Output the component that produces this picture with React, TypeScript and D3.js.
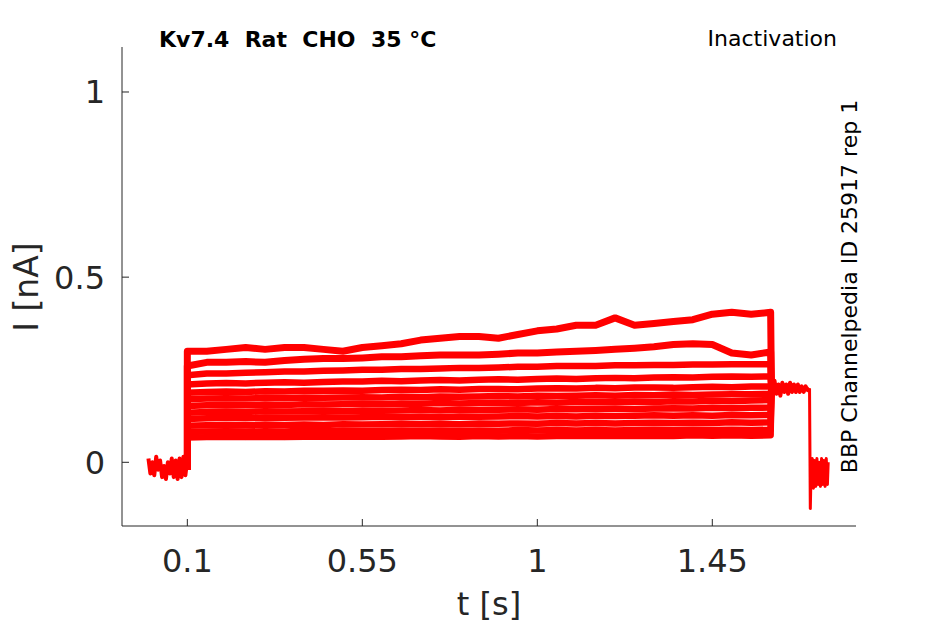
import React from "react";
import * as d3 from "d3";

const W = 945;
const H = 624;

// sample times (s) during the test pulse
const times = [
  0.1, 0.15, 0.2, 0.25, 0.3, 0.35, 0.4, 0.45, 0.5, 0.55, 0.6, 0.65, 0.7, 0.75, 0.8, 0.85,
  0.9, 0.95, 1.0, 1.05, 1.1, 1.15, 1.2, 1.25, 1.3, 1.35, 1.4, 1.45, 1.5, 1.55, 1.6,
];

// current (nA) of each sweep
const trace1 = [0.3, 0.3, 0.305, 0.31, 0.305, 0.31, 0.31, 0.305, 0.3, 0.31, 0.315, 0.32, 0.33, 0.335, 0.34, 0.34, 0.335, 0.345, 0.355, 0.36, 0.37, 0.37, 0.39, 0.37, 0.375, 0.38, 0.385, 0.4, 0.405, 0.4, 0.405];
const trace2 = [0.26, 0.27, 0.27, 0.272, 0.27, 0.275, 0.278, 0.28, 0.28, 0.282, 0.285, 0.285, 0.288, 0.29, 0.29, 0.29, 0.292, 0.295, 0.295, 0.298, 0.3, 0.302, 0.305, 0.308, 0.312, 0.318, 0.32, 0.318, 0.295, 0.29, 0.298];
const trace3 = [0.235, 0.24, 0.24, 0.242, 0.243, 0.245, 0.245, 0.247, 0.248, 0.25, 0.25, 0.252, 0.252, 0.253, 0.255, 0.255, 0.256, 0.258, 0.258, 0.26, 0.26, 0.26, 0.262, 0.262, 0.263, 0.263, 0.264, 0.264, 0.265, 0.265, 0.265];
const trace4 = [0.21, 0.213, 0.214, 0.213, 0.215, 0.216, 0.215, 0.217, 0.218, 0.218, 0.22, 0.219, 0.221, 0.222, 0.221, 0.223, 0.224, 0.223, 0.225, 0.226, 0.225, 0.227, 0.228, 0.227, 0.229, 0.23, 0.229, 0.231, 0.232, 0.231, 0.232];
const trace5 = [0.188, 0.19, 0.191, 0.19, 0.192, 0.191, 0.193, 0.193, 0.194, 0.193, 0.195, 0.196, 0.195, 0.197, 0.196, 0.198, 0.198, 0.197, 0.199, 0.2, 0.199, 0.201, 0.2, 0.202, 0.202, 0.201, 0.203, 0.204, 0.203, 0.205, 0.205];
const trace6 = [0.17, 0.172, 0.173, 0.172, 0.174, 0.173, 0.175, 0.174, 0.175, 0.176, 0.175, 0.177, 0.176, 0.178, 0.177, 0.178, 0.179, 0.178, 0.18, 0.179, 0.18, 0.181, 0.18, 0.182, 0.181, 0.183, 0.182, 0.183, 0.184, 0.184, 0.185];
const trace7 = [0.152, 0.154, 0.155, 0.154, 0.156, 0.155, 0.157, 0.156, 0.157, 0.158, 0.157, 0.159, 0.158, 0.16, 0.159, 0.16, 0.161, 0.16, 0.162, 0.161, 0.163, 0.162, 0.163, 0.164, 0.163, 0.165, 0.164, 0.166, 0.165, 0.167, 0.168];
const trace8 = [0.134, 0.136, 0.137, 0.136, 0.138, 0.137, 0.138, 0.139, 0.138, 0.14, 0.139, 0.14, 0.141, 0.14, 0.142, 0.141, 0.142, 0.143, 0.142, 0.144, 0.143, 0.144, 0.145, 0.144, 0.145, 0.146, 0.145, 0.147, 0.146, 0.147, 0.148];
const trace9 = [0.117, 0.119, 0.12, 0.119, 0.121, 0.12, 0.121, 0.122, 0.121, 0.122, 0.123, 0.122, 0.123, 0.122, 0.124, 0.123, 0.124, 0.125, 0.124, 0.125, 0.124, 0.126, 0.125, 0.126, 0.127, 0.126, 0.127, 0.126, 0.128, 0.127, 0.128];
const trace10 = [0.099, 0.1, 0.101, 0.1, 0.102, 0.101, 0.102, 0.101, 0.103, 0.102, 0.103, 0.104, 0.103, 0.104, 0.103, 0.105, 0.104, 0.105, 0.104, 0.106, 0.105, 0.106, 0.105, 0.106, 0.107, 0.106, 0.107, 0.106, 0.108, 0.107, 0.108];
const trace11 = [0.082, 0.083, 0.084, 0.083, 0.084, 0.083, 0.085, 0.084, 0.085, 0.084, 0.085, 0.086, 0.085, 0.086, 0.085, 0.086, 0.085, 0.087, 0.086, 0.087, 0.086, 0.087, 0.086, 0.087, 0.088, 0.087, 0.088, 0.087, 0.088, 0.087, 0.088];
const trace12 = [0.067, 0.068, 0.069, 0.068, 0.069, 0.068, 0.069, 0.07, 0.069, 0.07, 0.069, 0.07, 0.071, 0.07, 0.069, 0.071, 0.07, 0.071, 0.07, 0.071, 0.072, 0.071, 0.072, 0.071, 0.072, 0.071, 0.073, 0.072, 0.073, 0.072, 0.073];
const traces = [trace1, trace2, trace3, trace4, trace5, trace6, trace7, trace8, trace9, trace10, trace11, trace12];

// holding current before the pulse (all sweeps overlap here)
const preTimes = [0, 0.005, 0.01, 0.015, 0.02, 0.025, 0.03, 0.035, 0.04, 0.045, 0.05, 0.055, 0.06, 0.065, 0.07, 0.075, 0.08, 0.085, 0.09, 0.095, 0.1];
const preValues = [0.01, -0.03, 0.0, -0.035, 0.015, -0.02, 0.005, -0.04, -0.01, -0.045, 0.0, -0.03, 0.01, -0.04, 0.005, -0.045, 0.01, -0.04, 0.015, -0.035, 0.01];

// shared tail after the pulse
const tailTimes = [1.6, 1.605, 1.61, 1.615, 1.62, 1.625, 1.63, 1.635, 1.64, 1.645, 1.65, 1.655, 1.66, 1.665, 1.67, 1.675, 1.68, 1.685, 1.69, 1.695, 1.7];
const tailValues = [0.215, 0.18, 0.22, 0.185, 0.21, 0.18, 0.215, 0.19, 0.21, 0.185, 0.215, 0.19, 0.21, 0.19, 0.21, 0.19, 0.205, 0.19, 0.205, 0.195, 0.2];
const postTimes = [1.7, 1.702, 1.704, 1.707, 1.71, 1.713, 1.716, 1.719, 1.722, 1.725, 1.728, 1.731, 1.734, 1.737, 1.74, 1.743, 1.746, 1.748];
const postValues = [0.2, -0.125, -0.02, 0.01, -0.07, 0.005, -0.065, 0.01, -0.06, 0.0, -0.065, 0.01, -0.06, 0.005, -0.065, 0.01, -0.06, 0.0];

const xTicks = [0.1, 0.55, 1, 1.45];
const xTickLabels = ["0.1", "0.55", "1", "1.45"];
const yTicks = [0, 0.5, 1];
const yTickLabels = ["0", "0.5", "1"];

const axisColor = "#262626";
const font = "DejaVu Sans, sans-serif";

export default function App() {
  const x = d3.scaleLinear().domain([-0.068, 1.8195]).range([122, 856]);
  const y = d3.scaleLinear().domain([-0.172, 1.1215]).range([526, 47]);

  const line = d3
    .line<[number, number]>()
    .x((d) => x(d[0]))
    .y((d) => y(d[1]));

  const tracePath = (vals: number[]) => {
    const pts: [number, number][] = [[0.1, -0.02]];
    times.forEach((t, i) => pts.push([t, vals[i]]));
    pts.push([1.602, 0.2]);
    return line(pts) || "";
  };

  const zip = (ts: number[], vs: number[]) =>
    line(ts.map((t, i) => [t, vs[i]] as [number, number])) || "";

  const [x0, x1] = x.range();
  const [yb, yt] = y.range();

  return (
    <svg
      width={W}
      height={H}
      style={{ position: "absolute", left: 0, top: 0, background: "#fff" }}
      fontFamily={font}
    >
      <rect width={W} height={H} fill="#fff" />

      {/* sweeps */}
      <g fill="none" stroke="#ff0000" strokeLinejoin="round">
        <path d={zip(preTimes, preValues)} strokeWidth={4} />
        {traces.map((tr, i) => (
          <path key={i} d={tracePath(tr)} strokeWidth={i < 2 ? 7 : 6.5} />
        ))}
        <path d={zip(tailTimes, tailValues)} strokeWidth={4} />
        <path d={zip(postTimes, postValues)} strokeWidth={3} />
      </g>

      {/* axes */}
      <g stroke={axisColor} strokeWidth={1} fill="none">
        <line x1={x0} x2={x0} y1={yt} y2={yb} />
        <line x1={x0} x2={x1} y1={yb} y2={yb} />
        {xTicks.map((t) => (
          <line key={t} x1={x(t)} x2={x(t)} y1={yb} y2={yb - 7} />
        ))}
        {yTicks.map((t) => (
          <line key={t} x1={x0} x2={x0 + 7} y1={y(t)} y2={y(t)} />
        ))}
      </g>

      <g fill={axisColor} fontSize={32}>
        {xTicks.map((t, i) => (
          <text key={t} x={x(t)} y={572} textAnchor="middle">
            {xTickLabels[i]}
          </text>
        ))}
        {yTicks.map((t, i) => (
          <text key={t} x={105} y={y(t) + 11.5} textAnchor="end">
            {yTickLabels[i]}
          </text>
        ))}
        <text x={489} y={615} textAnchor="middle">
          t [s]
        </text>
        <text transform="translate(38,287) rotate(-90)" textAnchor="middle" fontSize={33}>
          I [nA]
        </text>
      </g>

      <text x={159} y={47} fontSize={22} fontWeight="bold" fill="#000" style={{ whiteSpace: "pre" }}>
        {"Kv7.4  Rat  CHO  35 °C"}
      </text>
      <text x={837} y={46} fontSize={22} textAnchor="end" fill="#000">
        Inactivation
      </text>
      <text transform="translate(857,286.5) rotate(-90)" fontSize={22} textAnchor="middle" fill="#000">
        BBP Channelpedia ID 25917 rep 1
      </text>
    </svg>
  );
}
